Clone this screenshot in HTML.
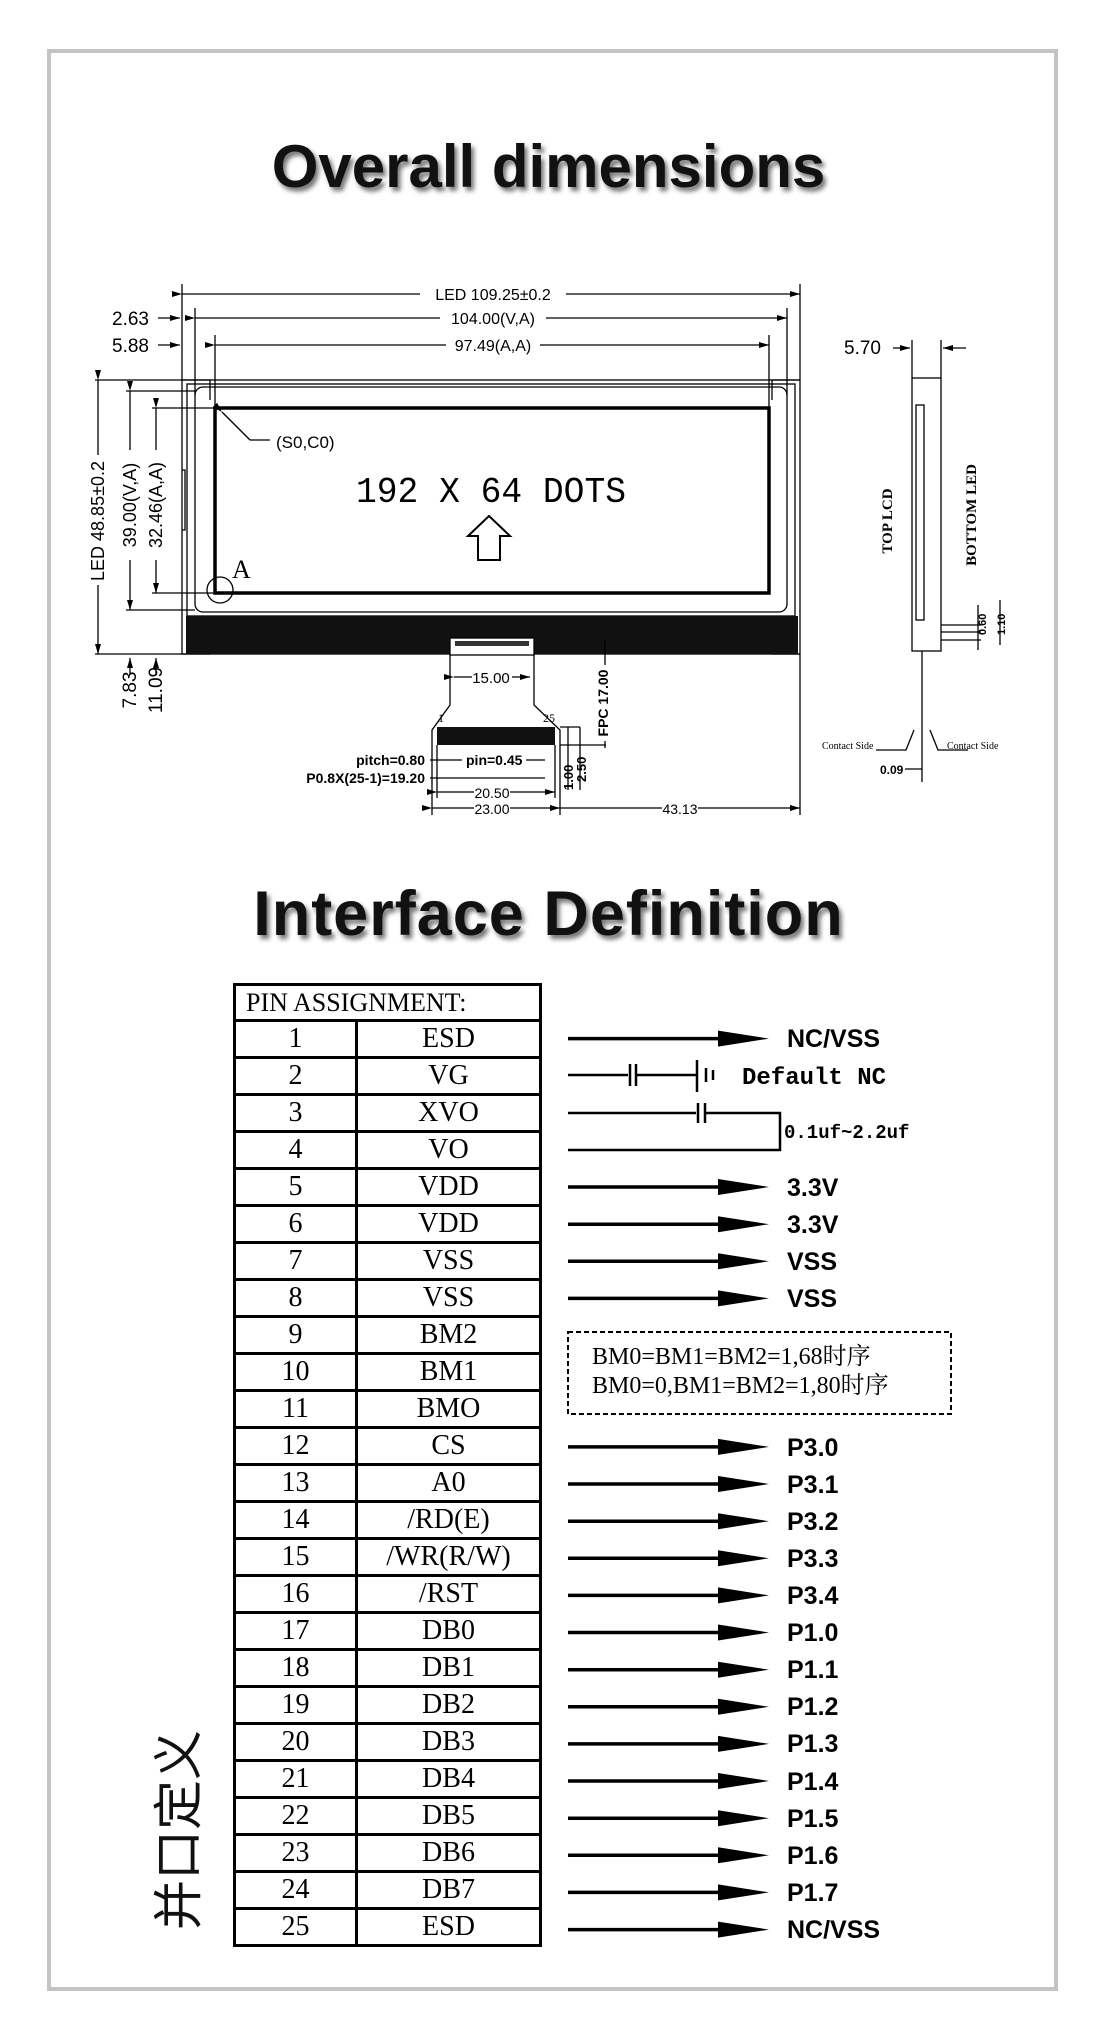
<!DOCTYPE html>
<html><head><meta charset="utf-8"><style>
html,body{margin:0;padding:0;background:#fff;}
body{width:1097px;height:2042px;position:relative;overflow:hidden;font-family:"Liberation Sans",sans-serif;}
.frame{position:absolute;left:47px;top:49px;width:1003px;height:1934px;border:4px solid #c4c4c4;}
.title{position:absolute;left:0;width:1097px;text-align:center;font-weight:bold;color:#111;text-shadow:3px 4px 5px rgba(0,0,0,0.55);}
table{position:absolute;left:233px;top:983px;border-collapse:collapse;font-family:"Liberation Serif","Noto Serif CJK SC",serif;}
td{border:3px solid #000;height:34px;padding:0;text-align:center;font-size:28px;line-height:30px;}
td.n{width:119px;}
td.s{width:181px;}
td.h{height:33px;text-align:left;padding-left:10px;font-size:26px;}
.cn{position:absolute;left:175px;top:1830px;transform:translate(-50%,-50%) rotate(-90deg);font-family:"Noto Sans CJK SC",sans-serif;font-size:50px;white-space:nowrap;color:#111;}
</style></head><body>
<div class="frame"></div>
<div class="title" style="top:132px;font-size:60px;">Overall dimensions</div>
<div class="title" style="top:878px;font-size:63px;letter-spacing:1px;">Interface Definition</div>

<svg width="1097" height="2042" style="position:absolute;left:0;top:0" xmlns="http://www.w3.org/2000/svg">
<defs>
<g id="ar"><line x1="568" y1="0" x2="725" y2="0" stroke="#000" stroke-width="3.5"/><polygon points="718,-8 769,0 718,8" fill="#000"/></g>
<marker id="ah" markerWidth="10" markerHeight="8" refX="10" refY="4" orient="auto" markerUnits="userSpaceOnUse"><polygon points="0,1 10,4 0,7" fill="#000"/></marker>
</defs>
<g font-family="Liberation Sans,sans-serif" font-size="16" fill="#000">
<g stroke="#000" stroke-width="1.3" fill="none">
<line x1="182" y1="294" x2="800" y2="294" marker-start="url(#ah)" marker-end="url(#ah)"/>
<line x1="195" y1="318" x2="787" y2="318" marker-start="url(#ah)" marker-end="url(#ah)"/>
<line x1="215" y1="345" x2="769" y2="345" marker-start="url(#ah)" marker-end="url(#ah)"/>
<line x1="182" y1="284" x2="182" y2="380"/><line x1="800" y1="284" x2="800" y2="380"/>
<line x1="195" y1="308" x2="195" y2="395"/><line x1="787" y1="308" x2="787" y2="395"/>
<line x1="215" y1="335" x2="215" y2="410"/><line x1="769" y1="335" x2="769" y2="410"/>
<line x1="158" y1="318" x2="180" y2="318" marker-end="url(#ah)"/>
<line x1="158" y1="345" x2="180" y2="345" marker-end="url(#ah)"/>
</g>
<rect x="420" y="285" width="146" height="18" fill="#fff"/><text x="493" y="300" text-anchor="middle">LED 109.25±0.2</text>
<rect x="440" y="309" width="106" height="18" fill="#fff"/><text x="493" y="324" text-anchor="middle">104.00(V,A)</text>
<rect x="446" y="336" width="94" height="18" fill="#fff"/><text x="493" y="351" text-anchor="middle">97.49(A,A)</text>
<text x="112" y="325" font-size="19">2.63</text><text x="112" y="352" font-size="19">5.88</text>
<g stroke="#000" fill="none" stroke-width="1.3">
<rect x="182" y="380" width="618" height="274"/>
<rect x="195" y="387" width="592" height="225" rx="8"/>
<rect x="187" y="384" width="608" height="232"/>
<path d="M182 380 h28 v20 M800 380 h-28 v20 M182 654 h28 v-10 M800 654 h-28 v-10"/>
<path d="M182 470 h3 v60 h-3"/>
</g>
<rect x="215" y="408" width="554" height="185" fill="none" stroke="#000" stroke-width="3.5"/>
<rect x="186" y="616" width="612" height="38" fill="#111"/>
<rect x="450" y="638" width="84" height="17" fill="#fff" stroke="#000" stroke-width="1.3"/>
<rect x="455" y="641" width="74" height="5" fill="#333"/>
<line x1="222" y1="412" x2="250" y2="440" stroke="#000" stroke-width="1.3" marker-start="url(#ah)"/>
<line x1="250" y1="440" x2="270" y2="440" stroke="#000" stroke-width="1.3"/>
<text x="276" y="448" font-size="17">(S0,C0)</text>
<circle cx="220" cy="590" r="13" fill="none" stroke="#000" stroke-width="1.3"/>
<text x="232" y="578" font-family="Liberation Serif,serif" font-size="26">A</text>
<text x="491" y="502" text-anchor="middle" font-family="Liberation Mono,monospace" font-size="36" textLength="270" lengthAdjust="spacingAndGlyphs">192 X 64 DOTS</text>
<polygon points="489,516 510,536 500,536 500,560 478,560 478,536 468,536" fill="none" stroke="#000" stroke-width="2"/>
<g stroke="#000" stroke-width="1.3" fill="none">
<line x1="95" y1="380" x2="182" y2="380"/><line x1="95" y1="654" x2="182" y2="654"/>
<line x1="98" y1="380" x2="98" y2="654" marker-start="url(#ah)" marker-end="url(#ah)"/>
<line x1="126" y1="391" x2="195" y2="391"/><line x1="126" y1="610" x2="195" y2="610"/>
<line x1="130" y1="391" x2="130" y2="610" marker-start="url(#ah)" marker-end="url(#ah)"/>
<line x1="152" y1="408" x2="215" y2="408"/><line x1="152" y1="593" x2="215" y2="593"/>
<line x1="156" y1="408" x2="156" y2="593" marker-start="url(#ah)" marker-end="url(#ah)"/>
<line x1="130" y1="675" x2="130" y2="658" marker-end="url(#ah)"/>
<line x1="156" y1="675" x2="156" y2="658" marker-end="url(#ah)"/>
</g>
<rect x="88" y="455" width="20" height="130" fill="#fff"/>
<text transform="translate(104,521) rotate(-90)" text-anchor="middle" font-size="18">LED 48.85±0.2</text>
<rect x="120" y="450" width="20" height="110" fill="#fff"/>
<text transform="translate(136,505) rotate(-90)" text-anchor="middle" font-size="18">39.00(V,A)</text>
<rect x="146" y="450" width="20" height="110" fill="#fff"/>
<text transform="translate(162,505) rotate(-90)" text-anchor="middle" font-size="18">32.46(A,A)</text>
<text transform="translate(136,690) rotate(-90)" text-anchor="middle" font-size="19">7.83</text>
<text transform="translate(162,690) rotate(-90)" text-anchor="middle" font-size="19">11.09</text>
<g stroke="#000" stroke-width="1.3" fill="none">
<path d="M450 655 V705 L432 730 V784 M534 655 V705 L560 730 V784"/>
<line x1="454" y1="677" x2="530" y2="677" marker-start="url(#ah)" marker-end="url(#ah)"/>
<line x1="605" y1="640" x2="605" y2="748"/>
<line x1="560" y1="727" x2="580" y2="727"/><line x1="560" y1="745" x2="606" y2="745"/>
<line x1="568" y1="727" x2="568" y2="790"/><line x1="580" y1="727" x2="580" y2="790"/>
<line x1="437" y1="745" x2="437" y2="798"/><line x1="555" y1="745" x2="555" y2="798"/>
<line x1="432" y1="784" x2="432" y2="815"/><line x1="560" y1="784" x2="560" y2="815"/>
<line x1="437" y1="792" x2="555" y2="792" marker-start="url(#ah)" marker-end="url(#ah)"/>
<line x1="432" y1="808" x2="560" y2="808" marker-start="url(#ah)" marker-end="url(#ah)"/>
<line x1="560" y1="808" x2="800" y2="808" marker-end="url(#ah)"/>
<line x1="800" y1="654" x2="800" y2="815"/>
<line x1="430" y1="760" x2="462" y2="760"/><line x1="526" y1="760" x2="545" y2="760"/>
<line x1="430" y1="778" x2="545" y2="778"/>
</g>
<rect x="437" y="727" width="118" height="18" fill="#111"/>
<rect x="472" y="669" width="40" height="16" fill="#fff"/><text x="491" y="683" text-anchor="middle" font-size="15">15.00</text>
<text x="438" y="722" font-size="12" font-family="Liberation Serif,serif">1</text>
<text x="543" y="722" font-size="12" font-family="Liberation Serif,serif">25</text>
<rect x="596" y="665" width="20" height="76" fill="#fff"/>
<text transform="translate(608,703) rotate(-90)" text-anchor="middle" font-size="14" font-weight="bold">FPC 17.00</text>
<text x="425" y="765" text-anchor="end" font-size="14" font-weight="bold">pitch=0.80</text>
<text x="466" y="765" font-size="14" font-weight="bold">pin=0.45</text>
<text x="425" y="783" text-anchor="end" font-size="14" font-weight="bold">P0.8X(25-1)=19.20</text>
<text transform="translate(573,790) rotate(-90)" font-size="13" font-weight="bold">1.00</text>
<text transform="translate(586,782) rotate(-90)" font-size="13" font-weight="bold">2.50</text>
<rect x="474" y="784" width="36" height="16" fill="#fff"/><text x="492" y="798" text-anchor="middle" font-size="14">20.50</text>
<rect x="474" y="800" width="36" height="16" fill="#fff"/><text x="492" y="814" text-anchor="middle" font-size="14">23.00</text>
<rect x="662" y="800" width="36" height="16" fill="#fff"/><text x="680" y="814" text-anchor="middle" font-size="14">43.13</text>
<g stroke="#000" stroke-width="1.3" fill="none">
<rect x="912" y="378" width="29" height="273"/>
<rect x="916" y="405" width="8" height="215"/>
<line x1="912" y1="340" x2="912" y2="378"/><line x1="941" y1="340" x2="941" y2="378"/>
<line x1="893" y1="348" x2="910" y2="348" marker-end="url(#ah)"/>
<line x1="966" y1="348" x2="943" y2="348" marker-end="url(#ah)"/>
<path d="M941 625 h40 M941 632 h40 M941 640 h40 M978 605 v45 M1000 600 v45 M922 651 v131"/>
<path d="M914 730 l-8 20 h-30 M930 730 l8 20 h30"/>
<line x1="905" y1="769" x2="922" y2="769"/>
</g>
<text x="844" y="354" font-size="19">5.70</text>
<text transform="translate(892,521) rotate(-90)" text-anchor="middle" font-size="15" font-weight="bold" font-family="Liberation Serif,serif">TOP LCD</text>
<text transform="translate(976,515) rotate(-90)" text-anchor="middle" font-size="15" font-weight="bold" font-family="Liberation Serif,serif">BOTTOM LED</text>
<text transform="translate(986,635) rotate(-90)" font-size="11" font-weight="bold">0.60</text>
<text transform="translate(1005,635) rotate(-90)" font-size="11" font-weight="bold">1.10</text>
<text x="822" y="749" font-size="10" font-family="Liberation Serif,serif">Contact Side</text>
<text x="947" y="749" font-size="10" font-family="Liberation Serif,serif">Contact Side</text>
<text x="880" y="774" font-size="12" font-weight="bold">0.09</text>

<use href="#ar" y="1038.6"/><use href="#ar" y="1187"/><use href="#ar" y="1224.2"/><use href="#ar" y="1261.3"/><use href="#ar" y="1298.4"/>
<use href="#ar" y="1446.9"/><use href="#ar" y="1484"/><use href="#ar" y="1521.2"/><use href="#ar" y="1558.3"/><use href="#ar" y="1595.4"/>
<use href="#ar" y="1632.5"/><use href="#ar" y="1669.7"/><use href="#ar" y="1706.8"/><use href="#ar" y="1743.9"/><use href="#ar" y="1781"/>
<use href="#ar" y="1818.2"/><use href="#ar" y="1855.3"/><use href="#ar" y="1892.4"/><use href="#ar" y="1929.6"/>
<g font-weight="bold" font-size="25">
<text x="787" y="1047">NC/VSS</text><text x="787" y="1196">3.3V</text><text x="787" y="1233">3.3V</text>
<text x="787" y="1270">VSS</text><text x="787" y="1307">VSS</text>
<text x="787" y="1456">P3.0</text><text x="787" y="1493">P3.1</text><text x="787" y="1530">P3.2</text><text x="787" y="1567">P3.3</text><text x="787" y="1604">P3.4</text>
<text x="787" y="1641">P1.0</text><text x="787" y="1678">P1.1</text><text x="787" y="1715">P1.2</text><text x="787" y="1752">P1.3</text><text x="787" y="1790">P1.4</text>
<text x="787" y="1827">P1.5</text><text x="787" y="1864">P1.6</text><text x="787" y="1901">P1.7</text><text x="787" y="1938">NC/VSS</text>
</g>
<g stroke="#000" stroke-width="2.5" fill="none">
<line x1="568" y1="1075" x2="628" y2="1075"/><line x1="630" y1="1064" x2="630" y2="1086"/><line x1="636" y1="1064" x2="636" y2="1086"/>
<line x1="636" y1="1075" x2="696" y2="1075"/><line x1="697" y1="1060" x2="697" y2="1092"/>
<line x1="706" y1="1068" x2="706" y2="1082"/><line x1="713" y1="1070" x2="713" y2="1080"/>
<line x1="568" y1="1113" x2="696" y2="1113"/><line x1="698" y1="1103" x2="698" y2="1123"/><line x1="705" y1="1103" x2="705" y2="1123"/>
<path d="M705 1113 H780 V1150 H568"/>
</g>
<text x="742" y="1084" font-weight="bold" font-size="24" font-family="Liberation Mono,monospace">Default NC</text>
<text x="784" y="1138" font-weight="bold" font-size="19" font-family="Liberation Mono,monospace">0.1uf~2.2uf</text>
<rect x="568" y="1332" width="383" height="82" fill="none" stroke="#000" stroke-width="2" stroke-dasharray="5,3"/>
<g font-family="Liberation Serif,Noto Serif CJK SC,serif" font-size="24">
<text x="592" y="1364">BM0=BM1=BM2=1,68时序</text>
<text x="592" y="1393">BM0=0,BM1=BM2=1,80时序</text>
</g>
</g>
</svg>

<table>
<tr><td class="h" colspan="2">PIN ASSIGNMENT:</td></tr>
<tr><td class="n">1</td><td class="s">ESD</td></tr>
<tr><td class="n">2</td><td class="s">VG</td></tr>
<tr><td class="n">3</td><td class="s">XVO</td></tr>
<tr><td class="n">4</td><td class="s">VO</td></tr>
<tr><td class="n">5</td><td class="s">VDD</td></tr>
<tr><td class="n">6</td><td class="s">VDD</td></tr>
<tr><td class="n">7</td><td class="s">VSS</td></tr>
<tr><td class="n">8</td><td class="s">VSS</td></tr>
<tr><td class="n">9</td><td class="s">BM2</td></tr>
<tr><td class="n">10</td><td class="s">BM1</td></tr>
<tr><td class="n">11</td><td class="s">BMO</td></tr>
<tr><td class="n">12</td><td class="s">CS</td></tr>
<tr><td class="n">13</td><td class="s">A0</td></tr>
<tr><td class="n">14</td><td class="s">/RD(E)</td></tr>
<tr><td class="n">15</td><td class="s">/WR(R/W)</td></tr>
<tr><td class="n">16</td><td class="s">/RST</td></tr>
<tr><td class="n">17</td><td class="s">DB0</td></tr>
<tr><td class="n">18</td><td class="s">DB1</td></tr>
<tr><td class="n">19</td><td class="s">DB2</td></tr>
<tr><td class="n">20</td><td class="s">DB3</td></tr>
<tr><td class="n">21</td><td class="s">DB4</td></tr>
<tr><td class="n">22</td><td class="s">DB5</td></tr>
<tr><td class="n">23</td><td class="s">DB6</td></tr>
<tr><td class="n">24</td><td class="s">DB7</td></tr>
<tr><td class="n">25</td><td class="s">ESD</td></tr>
</table>
<div class="cn">并口定义</div>
</body></html>
